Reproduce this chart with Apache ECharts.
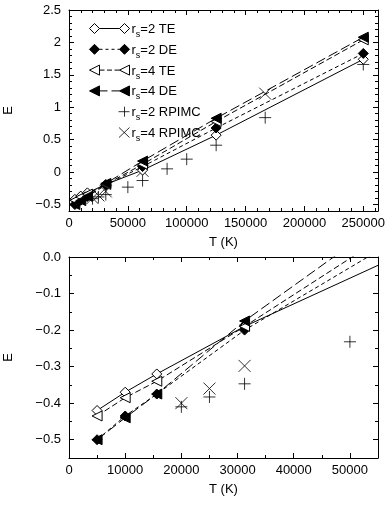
<!DOCTYPE html>
<html><head><meta charset="utf-8">
<script src="https://cdn.jsdelivr.net/npm/echarts@6/dist/echarts.min.js"></script>
<style>html,body{margin:0;padding:0;background:#fff}#c{width:392px;height:505px}</style>
</head><body><div id="c"></div>
<script>
// ---- data ----
const temps = [5000, 10000, 15625, 31250, 62500, 125000, 250000];
const rs2TE = [-0.42, -0.37, -0.32, -0.19, 0.03, 0.57, 1.74];
const rs2DE = [-0.50, -0.435, -0.375, -0.20, 0.085, 0.68, 1.83];
const rs4TE = [-0.435, -0.385, -0.34, -0.19, 0.12, 0.78, 2.04];
const rs4DE = [-0.50, -0.44, -0.375, -0.175, 0.17, 0.83, 2.08];
const rpimc2T = [20000, 25000, 31250, 50000, 62500, 83333, 100000, 125000, 166667, 250000];
const rpimc2E = [-0.41, -0.383, -0.347, -0.232, -0.13, 0.05, 0.2, 0.415, 0.84, 1.66];
const rpimc4T = [20000, 25000, 31250, 62500, 166667];
const rpimc4E = [-0.40, -0.36, -0.298, 0.02, 1.21];
const seriesNames = ['r_s=2 TE', 'r_s=2 DE', 'r_s=4 TE', 'r_s=4 DE', 'r_s=2 RPIMC', 'r_s=4 RPIMC'];
// ---- tick labels ----
const upXMajor = [0, 50000, 100000, 150000, 200000, 250000];
const upXMinor = [10000,20000,30000,40000,60000,70000,80000,90000,110000,120000,130000,140000,160000,170000,180000,190000,210000,220000,230000,240000,260000];
const upYMajor = [-0.5, 0, 0.5, 1, 1.5, 2, 2.5];
const upYMinor = [-0.4,-0.3,-0.2,-0.1,0.1,0.2,0.3,0.4,0.6,0.7,0.8,0.9,1.1,1.2,1.3,1.4,1.6,1.7,1.8,1.9,2.1,2.2,2.3,2.4];
const loXMajor = [0, 10000, 20000, 30000, 40000, 50000];
const loXMinor = [5000, 15000, 25000, 35000, 45000, 55000];
const loYMajor = [-0.5, -0.4, -0.3, -0.2, -0.1, 0];
const loYMinor = [-0.55, -0.45, -0.35, -0.25, -0.15, -0.05];

const FONT = '"Liberation Sans", Arial, Helvetica, sans-serif';
const minus = s => s.replace('-', '\u2212');
const pair = (xs, ys) => xs.map((x, i) => [x, ys[i]]);

function axesFor(dim, grid, min, max, major, minor, fmt, name, nameGap) {
  const base = {type: 'value', gridIndex: grid, min: min, max: max, splitLine: {show: false}, animation: false};
  const posA = dim === 'x' ? 'bottom' : 'left';
  const posB = dim === 'x' ? 'top' : 'right';
  const line = {show: true, onZero: false, lineStyle: {color: '#000', width: 1}};
  const noLine = {show: false, onZero: false};
  const tick = (vals, len) => ({show: true, inside: true, length: len, customValues: vals, lineStyle: {color: '#000', width: 1}});
  return [
    Object.assign({}, base, {position: posA, axisLine: line, axisTick: tick(major, 5),
      axisLabel: {show: true, customValues: major, formatter: fmt, color: '#000', fontSize: 13, fontFamily: FONT, margin: dim === 'x' ? 6 : 8},
      name: name, nameLocation: 'middle', nameGap: nameGap, nameRotate: dim === 'y' ? 90 : 0,
      nameTextStyle: {color: '#000', fontSize: 13, fontFamily: FONT}}),
    Object.assign({}, base, {position: posA, axisLine: noLine, axisTick: tick(minor, 3), axisLabel: {show: false}}),
    Object.assign({}, base, {position: posB, axisLine: line, axisTick: tick(major, 5), axisLabel: {show: false}}),
    Object.assign({}, base, {position: posB, axisLine: noLine, axisTick: tick(minor, 3), axisLabel: {show: false}})
  ];
}

const symOpenDia = {symbol: 'diamond', symbolSize: 10, itemStyle: {color: '#fff', borderColor: '#000', borderWidth: 1}};
const symFillDia = {symbol: 'diamond', symbolSize: 10, itemStyle: {color: '#000', borderColor: '#000', borderWidth: 1}};
const triPath = 'path://M0,5L10,0L10,10Z';
const symOpenTri = {symbol: triPath, symbolSize: 10, itemStyle: {color: '#fff', borderColor: '#000', borderWidth: 1}};
const symFillTri = {symbol: triPath, symbolSize: 10, itemStyle: {color: '#000', borderColor: '#000', borderWidth: 1}};
const plusPath = 'path://M5,0L5,10M0,5L10,5';
const crossPath = 'path://M0,0L10,10M10,0L0,10';

// legend icons (40 x 10 box): marker at both ends joined by the series' line style
const diaL = 'M0,5L5,0L10,5L5,10Z', diaR = 'M30,5L35,0L40,5L35,10Z';
const triL = 'M0,5L10,0L10,10Z', triR = 'M30,5L40,0L40,10Z';
const dashes = (on, off) => { let s = '', x = 10; while (x < 30) { const e = Math.min(x + on, 30); s += 'M' + x + ',5L' + e + ',5'; x = e + off; } return s; };
const legendIcons = [
  'path://' + diaL + 'M10,5L30,5' + diaR,
  'path://' + diaL + dashes(3, 3) + diaR,
  'path://' + triL + dashes(5, 2.5) + triR,
  'path://' + triL + dashes(8, 4) + triR,
  'path://M0,5L0.01,5M35,0L35,10M29,5L40,5',
  'path://M0,5L0.01,5M29.5,0L40,10M40,0L29.5,10'
];

function seriesFor(grid) {
  const xi = grid * 4, yi = grid * 4;
  const ln = (name, ys, sym, dash) => Object.assign({
    type: 'line', name: name, xAxisIndex: xi, yAxisIndex: yi, data: pair(temps, ys),
    showSymbol: true, clip: true, animation: false,
    lineStyle: {color: '#000', width: 1, type: dash}
  }, sym);
  const sc = (name, xs, ys, path) => ({
    type: 'scatter', name: name, xAxisIndex: xi, yAxisIndex: yi, data: pair(xs, ys),
    symbol: path, symbolSize: 12, clip: true, animation: false,
    itemStyle: {color: 'rgba(0,0,0,0)', borderColor: '#000', borderWidth: 1}
  });
  return [
    ln(seriesNames[0], rs2TE, symOpenDia, 'solid'),
    ln(seriesNames[1], rs2DE, symFillDia, [4, 3]),
    ln(seriesNames[2], rs4TE, symOpenTri, [6, 3]),
    ln(seriesNames[3], rs4DE, symFillTri, [10, 4]),
    sc(seriesNames[4], rpimc2T, rpimc2E, plusPath),
    sc(seriesNames[5], rpimc4T, rpimc4E, crossPath)
  ];
}

const upYFmt = v => minus(String(v));
const xFmt = v => String(v);
const loYFmt = v => minus((Math.abs(v) < 1e-9 ? 0 : v).toFixed(1));

const xAxes = [].concat(
  axesFor('x', 0, 0, 262500, upXMajor, upXMinor, xFmt, 'T (K)', 25),
  axesFor('x', 1, 0, 55000, loXMajor, loXMinor, xFmt, 'T (K)', 25)
);
const yAxes = [].concat(
  axesFor('y', 0, -0.6, 2.5, upYMajor, upYMinor, upYFmt, 'E', 54),
  axesFor('y', 1, -0.55, 0, loYMajor, loYMinor, loYFmt, 'E', 54)
);

const chart = echarts.init(document.getElementById('c'), null, {renderer: 'canvas'});
chart.setOption({
  animation: false,
  backgroundColor: '#fff',
  grid: [
    {left: 69, top: 10, width: 309, height: 201, containLabel: false, outerBoundsMode: 'none'},
    {left: 69, top: 257, width: 309, height: 201, containLabel: false, outerBoundsMode: 'none'}
  ],
  xAxis: xAxes,
  yAxis: yAxes,
  legend: {
    data: seriesNames.map((n, i) => ({name: n, icon: legendIcons[i]})),
    orient: 'vertical', left: 84, top: 18,
    itemWidth: 40, itemHeight: 10, itemGap: 4.8,
    itemStyle: {borderColor: '#000', borderWidth: 1},
    formatter: n => '{a|r}{b|s}{a|' + n.slice(3) + '}',
    textStyle: {color: '#000', fontSize: 13, fontFamily: FONT, padding: [0, 0, 0, -3],
      rich: {a: {fontSize: 13, fontFamily: FONT, color: '#000', verticalAlign: 'bottom', lineHeight: 15},
             b: {fontSize: 9, fontFamily: FONT, color: '#000', verticalAlign: 'bottom', lineHeight: 9, padding: [0, 0, -3, 0]}}}
  },
  series: [].concat(seriesFor(0), seriesFor(1))
});
</script>
</body></html>
